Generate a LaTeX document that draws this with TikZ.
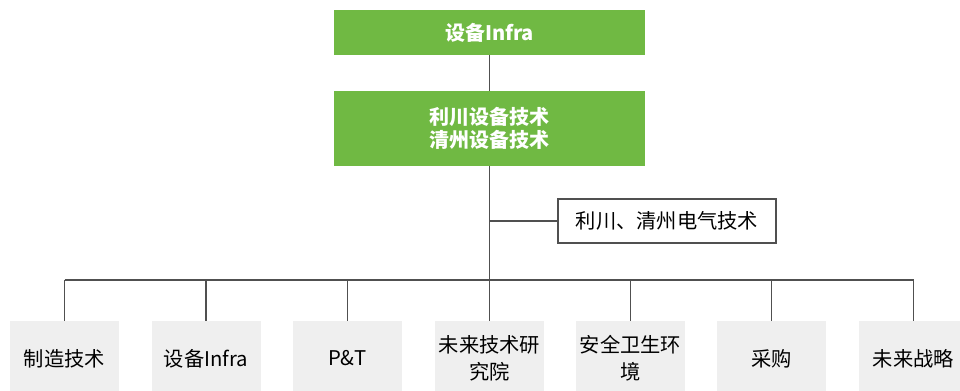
\documentclass[tikz,border=0pt]{standalone}
\usepackage{fontspec}
\setmainfont{Noto Sans CJK SC}
\usepackage{tikz}
\usetikzlibrary{positioning}

\definecolor{leafgreen}{RGB}{112,185,67}
\definecolor{unitgray}{RGB}{239,239,239}
\definecolor{linegray}{RGB}{80,80,80}

\begin{document}
\begin{tikzpicture}[
  x=0.75pt, y=-0.75pt,
  head/.style={fill=leafgreen, minimum width=233.25pt, minimum height=#1,
    font=\fontsize{15}{17.5}\selectfont\bfseries, text=white, align=center, inner sep=0pt},
  unit/.style={fill=unitgray, minimum width=81.75pt, minimum height=56.25pt,
    font=\fontsize{15.2}{20.5}\selectfont, align=center, inner sep=0pt},
  link/.style={draw=linegray, line width=0.8pt}
]
\useasboundingbox (0,0) rectangle (960,391);

% Top of the chart
\node[head=33.75pt] (infra) at (489.5,32.5) {设备Infra};
\node[head=56.25pt] (tech) at (489.5,128.5) {利川设备技术\\清州设备技术};
\node[draw=linegray, line width=0.8pt, fill=white, minimum width=163.5pt, minimum height=33pt,
  font=\fontsize{15.2}{17.5}\selectfont, inner sep=0pt] (elec) at (667,221) {利川、清州电气技术};

% Bottom units
\node[unit] (mfg) at (64.5,358.5) {制造技术};
\node[unit] (equip) at (206,358.5) {设备Infra};
\node[unit] (pt) at (347.5,358.5) {P\&T};
\node[unit] (lab) at (489.5,358.5) {未来技术研\\究院};
\node[unit] (ehs) at (630.5,358.5) {安全卫生环\\境};
\node[unit] (buy) at (771.5,358.5) {采购};
\node[unit] (plan) at (913.5,358.5) {未来战略};

% Connectors
\coordinate (bus) at (489.5,280);
\draw[link] (infra.south) -- (tech.north);
\draw[link] (tech.south) -- (bus);
\draw[link] (tech.south |- elec.west) -- (elec.west);
\draw[link] (mfg.north |- bus) -- (plan.north |- bus);
\draw[link] (mfg.north) -- (mfg.north |- bus);
\draw[link] (equip.north) -- (equip.north |- bus);
\draw[link] (pt.north) -- (pt.north |- bus);
\draw[link] (lab.north) -- (bus);
\draw[link] (ehs.north) -- (ehs.north |- bus);
\draw[link] (buy.north) -- (buy.north |- bus);
\draw[link] (plan.north) -- (plan.north |- bus);

\end{tikzpicture}
\end{document}
